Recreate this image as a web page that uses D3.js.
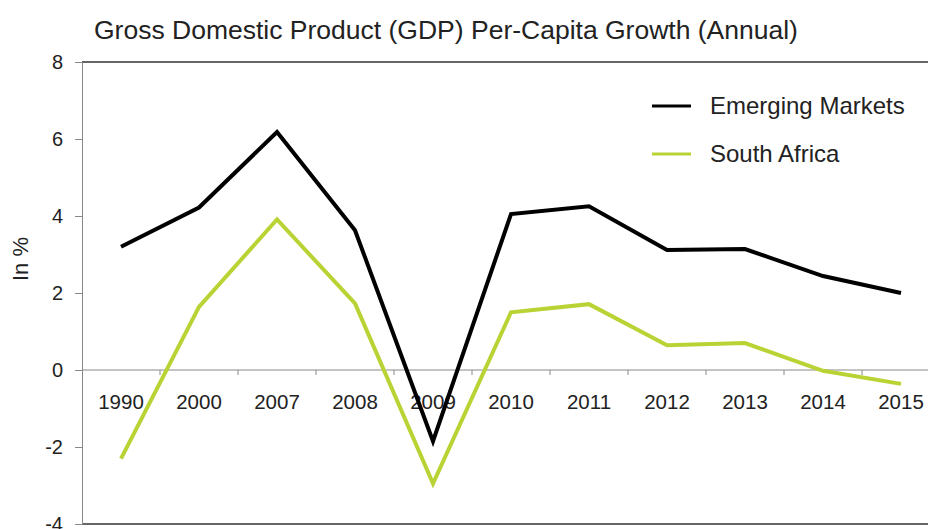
<!DOCTYPE html>
<html>
<head>
<meta charset="utf-8">
<script src="https://cdn.jsdelivr.net/npm/d3@7"></script>
<style>
  body { margin: 0; background: #fff; }
  text { font-family: "Liberation Sans", Arial, sans-serif; fill: #222; }
</style>
</head>
<body>
<div id="chart"></div>
<script>
// data
var years = ["1990", "2000", "2007", "2008", "2009", "2010", "2011", "2012", "2013", "2014", "2015"];
var emerging = [3.2, 4.22, 6.18, 3.63, -1.85, 4.05, 4.25, 3.12, 3.14, 2.44, 2.0];
var southAfrica = [-2.3, 1.64, 3.91, 1.73, -2.95, 1.5, 1.71, 0.64, 0.7, -0.02, -0.36];
var yTicks = [-4, -2, 0, 2, 4, 6, 8];

var svgWidth = 928;
var svgHeight = 529;

var margin = { top: 62, left: 82, bottom: 5 };
var plotRight = margin.left + 11 * 78;
var plotBottom = svgHeight - margin.bottom;

var svg = d3.select("#chart")
  .append("svg")
  .attr("width", svgWidth)
  .attr("height", svgHeight);

var x = d3.scaleBand()
  .domain(years)
  .range([margin.left, plotRight])
  .padding(0);

var y = d3.scaleLinear()
  .domain([-4, 8])
  .range([plotBottom, margin.top]);

// title
svg.append("text")
  .attr("x", 94)
  .attr("y", 39)
  .attr("font-size", 26.5)
  .text("Gross Domestic Product (GDP) Per-Capita Growth (Annual)");

// frame top and bottom
svg.append("line")
  .attr("x1", margin.left).attr("x2", svgWidth)
  .attr("y1", y(8)).attr("y2", y(8))
  .attr("stroke", "#333").attr("stroke-width", 1.5);
svg.append("line")
  .attr("x1", margin.left).attr("x2", svgWidth)
  .attr("y1", y(-4)).attr("y2", y(-4))
  .attr("stroke", "#333").attr("stroke-width", 1.5);

// y axis
var leftAxis = d3.axisLeft(y)
  .tickValues(yTicks)
  .tickSize(7)
  .tickPadding(12)
  .tickFormat(d => String(d));

var yAxisG = svg.append("g")
  .attr("transform", `translate(${margin.left}, 0)`)
  .call(leftAxis);
yAxisG.select(".domain").attr("stroke", "#888");
yAxisG.selectAll(".tick line").attr("stroke", "#888");
yAxisG.selectAll("text")
  .attr("font-size", 20)
  .attr("font-family", "Liberation Sans, Arial, sans-serif")
  .attr("fill", "#222");

svg.append("text")
  .attr("transform", "rotate(-90)")
  .attr("x", -259)
  .attr("y", 28)
  .attr("text-anchor", "middle")
  .attr("font-size", 22)
  .text("In %");

// zero line with category labels
var bottomAxis = d3.axisBottom(x)
  .tickSize(0)
  .tickPadding(24);

var xAxisG = svg.append("g")
  .attr("transform", `translate(0, ${y(0)})`)
  .call(bottomAxis);
xAxisG.select(".domain").attr("stroke", "#888").attr("d", `M${margin.left},0H${svgWidth}`);
xAxisG.selectAll("text")
  .attr("font-size", 20.5)
  .attr("font-family", "Liberation Sans, Arial, sans-serif")
  .attr("fill", "#222");

// ticks between categories
svg.append("g")
  .selectAll("line")
  .data(years.slice(1))
  .enter()
  .append("line")
  .attr("x1", d => x(d)).attr("x2", d => x(d))
  .attr("y1", y(0)).attr("y2", y(0) + 5)
  .attr("stroke", "#888");

// lines
var line = d3.line()
  .x((d, i) => x(years[i]) + x.bandwidth() / 2)
  .y(d => y(d));

svg.append("path")
  .datum(southAfrica)
  .attr("fill", "none")
  .attr("stroke", "#b9d334")
  .attr("stroke-width", 4)
  .attr("d", line);

svg.append("path")
  .datum(emerging)
  .attr("fill", "none")
  .attr("stroke", "#000")
  .attr("stroke-width", 4)
  .attr("d", line);

// legend
var legend = [
  { name: "Emerging Markets", color: "#000", y: 106 },
  { name: "South Africa", color: "#b9d334", y: 154 }
];

var legendG = svg.append("g").selectAll("g")
  .data(legend)
  .enter()
  .append("g");

legendG.append("line")
  .attr("x1", 652).attr("x2", 691)
  .attr("y1", d => d.y).attr("y2", d => d.y)
  .attr("stroke", d => d.color)
  .attr("stroke-width", 3);

legendG.append("text")
  .attr("x", 710)
  .attr("y", d => d.y)
  .attr("dy", "0.35em")
  .attr("font-size", 24)
  .text(d => d.name);
</script>
</body>
</html>
